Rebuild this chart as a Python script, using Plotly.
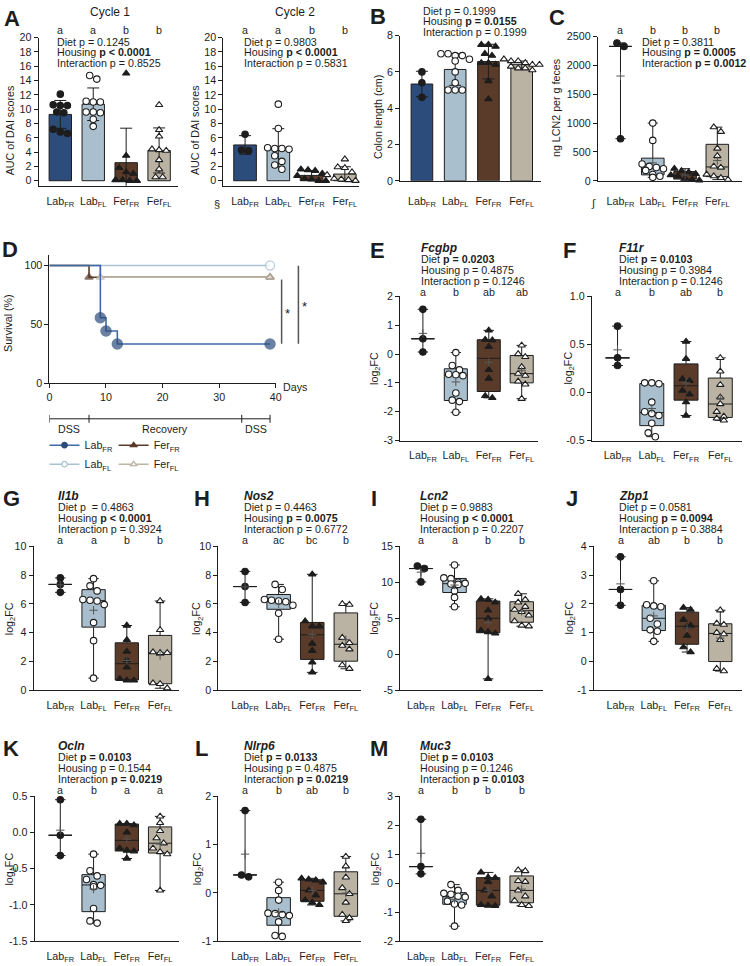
import numpy as np
import plotly.graph_objects as go

# ---------------- categories ----------------
group_names = ["LabFR", "LabFL", "FerFR", "FerFL"]
group_ticktext = ["Lab<sub>FR</sub>", "Lab<sub>FL</sub>", "Fer<sub>FR</sub>", "Fer<sub>FL</sub>"]

# ---------------- A: AUC of DAI scores ----------------
auc_c1_lab_fr = [12.1, 10.6, 10.5, 10.5, 9.6, 9.5, 7.2, 6.6, 6.8]
auc_c1_lab_fl = [14.7, 14.2, 11.1, 11.0, 11.0, 9.6, 9.6, 9.5, 8.6, 7.6]
auc_c1_fer_fr = [15.0, 3.5, 1.8, 1.2, 1.0, 0.1, 0.0, 0.0, 0.1]
auc_c1_fer_fl = [10.6, 7.1, 6.2, 4.4, 4.2, 4.3, 2.9, 1.6, 0.5, 0.5]

auc_c2_lab_fr = [6.5, 4.3, 4.2]
auc_c2_lab_fl = [10.7, 7.3, 4.6, 4.5, 4.5, 4.4, 3.5, 2.7, 2.2, 1.6]
auc_c2_fer_fr = [1.6, 1.5, 1.4, 1.0, 0.7, 0.3, 0.2, 0.0, 0.0]
auc_c2_fer_fl = [3.0, 1.9, 1.8, 1.2, 0.8, 0.3, 0.2, 0.1, 0.0, 0.0]

# ---------------- B: colon length ----------------
colon_lab_fr = [6.0, 5.4, 4.6]
colon_lab_fl = [7.0, 7.0, 6.9, 6.9, 6.7, 6.6, 6.0, 5.4, 5.0, 5.0, 5.0]
colon_fer_fr = [7.5, 7.5, 7.4, 7.0, 6.9, 6.5, 6.5, 6.4, 5.5, 4.5]
colon_fer_fl = [6.7, 6.6, 6.6, 6.5, 6.4, 6.4, 6.3, 6.2, 6.2, 6.1]

# ---------------- C: fecal LCN2 ----------------
lcn2f_lab_fr = [2390, 2330, 730]
lcn2f_lab_fl = [1000, 700, 290, 250, 230, 210, 180, 110, 80, 60]
lcn2f_fer_fr = [210, 170, 150, 120, 100, 80, 40, 20, 10]
lcn2f_fer_fl = [930, 850, 560, 430, 250, 230, 110, 80, 50, 20]

# ---------------- D: survival ----------------
surv_days_lab_fr = [0, 9, 10, 12, 39]
surv_pct_lab_fr = [100, 55.6, 44.4, 33.3, 33.3]
surv_days_lab_fl = [0, 39]
surv_pct_lab_fl = [100, 100]
surv_days_fer_fr = [0, 7, 39]
surv_pct_fer_fr = [100, 90, 90]
surv_days_fer_fl = [0, 9, 39]
surv_pct_fer_fl = [100, 90, 90]
phase_days = [0, 7, 34, 39]
phase_labels = ["DSS", "Recovery", "DSS"]

# ---------------- E-M: gene expression (log2FC) ----------------
fcgbp_lab_fr = [1.55, 0.53, 0.07]
fcgbp_lab_fl = [0.05, -0.4, -0.55, -0.72, -0.75, -0.7, -1.35, -1.65, -1.6, -2.02]
fcgbp_fer_fr = [0.82, 0.5, 0.48, 0.25, -0.55, -0.85, -1.45, -1.52]
fcgbp_fer_fl = [0.3, 0.0, -0.1, -0.45, -0.68, -0.75, -0.95, -1.05, -1.55]

f11r_lab_fr = [0.69, 0.36, 0.28]
f11r_lab_fl = [0.1, 0.09, 0.1, -0.1, -0.22, -0.2, -0.24, -0.32, -0.42, -0.46]
f11r_fer_fr = [0.53, 0.35, 0.14, 0.12, 0.02, -0.02, -0.1, -0.24]
f11r_fer_fl = [0.36, 0.22, 0.08, -0.05, -0.12, -0.2, -0.25, -0.27, -0.29]

il1b_lab_fr = [7.8, 7.35, 6.8]
il1b_lab_fl = [7.75, 7.25, 6.9, 6.3, 6.25, 6.2, 5.95, 4.7, 3.45, 0.85]
il1b_fer_fr = [4.5, 3.5, 2.7, 2.1, 1.6, 0.8, 0.7, 0.7]
il1b_fer_fl = [6.2, 4.2, 2.65, 2.6, 2.6, 0.5, 0.45, 0.15]

nos2_lab_fr = [8.25, 7.2, 6.1]
nos2_lab_fl = [7.35, 7.0, 6.3, 6.25, 6.2, 6.15, 5.9, 5.35, 3.55]
nos2_fer_fr = [8.05, 4.8, 4.45, 4.45, 3.25, 2.75, 1.95, 1.25]
nos2_fer_fl = [6.0, 5.95, 3.65, 3.3, 3.1, 2.85, 1.75, 1.5]

lcn2_lab_fr = [12.25, 11.9, 10.05]
lcn2_lab_fl = [12.4, 10.6, 10.5, 10.0, 9.85, 9.75, 9.7, 8.8, 7.9, 6.6]
lcn2_fer_fr = [7.7, 7.6, 7.2, 6.1, 5.0, 3.3, 3.1, 2.9, -3.4]
lcn2_fer_fl = [8.4, 7.6, 7.2, 6.6, 6.2, 5.9, 5.4, 4.6, 4.0, 3.9]

zbp1_lab_fr = [3.63, 2.5, 1.95]
zbp1_lab_fl = [2.8, 1.97, 1.93, 1.9, 1.5, 1.3, 1.1, 1.05, 0.7]
zbp1_fer_fr = [1.87, 1.8, 1.45, 1.25, 1.2, 0.9, 0.5, 0.33]
zbp1_fer_fl = [1.78, 1.32, 1.28, 1.0, 0.95, 0.75, -0.25, -0.33]

ocln_lab_fr = [0.45, -0.04, -0.32]
ocln_lab_fl = [-0.3, -0.53, -0.6, -0.65, -0.72, -0.73, -0.75, -1.05, -1.22, -1.25]
ocln_fer_fr = [0.12, 0.12, 0.1, 0.0, -0.22, -0.25, -0.26, -0.36]
ocln_fer_fl = [0.22, 0.13, 0.02, -0.08, -0.15, -0.22, -0.27, -0.3, -0.8]

nlrp6_lab_fr = [1.7, 0.37, 0.33]
nlrp6_lab_fl = [0.22, 0.05, -0.15, -0.42, -0.43, -0.45, -0.47, -0.6, -0.88, -0.9]
nlrp6_fer_fr = [0.3, 0.28, 0.26, 0.22, 0.05, -0.05, -0.15, -0.2, -0.25]
nlrp6_fer_fl = [0.75, 0.55, 0.32, 0.1, -0.02, -0.2, -0.45, -0.52, -0.58]

muc3_lab_fr = [2.2, 0.57, 0.32]
muc3_lab_fl = [-0.05, -0.25, -0.35, -0.38, -0.45, -0.48, -0.62, -0.72, -0.75, -1.48]
muc3_fer_fr = [0.37, 0.2, 0.18, 0.05, -0.25, -0.45, -0.75, -0.77, -0.78]
muc3_fer_fl = [0.45, 0.42, 0.08, 0.05, -0.25, -0.45, -0.6, -0.75, -0.78]

# ---------------- styles ----------------
W, H = 750, 966
FONT = "Liberation Sans, Arial, Helvetica, sans-serif"
INK = "#1d1d1d"
FS = 10.7
FILLS = ["#2c4c7c", "#a9bfcd", "#5a3a28", "#bab3a3"]
SYM = ["circle", "circle", "triangle-up", "triangle-up"]
PFILL = [INK, "white", INK, "white"]
PSIZE = [6.5, 6.5, 6.5, 6.5]

fig = go.Figure()
annotations = []
shapes = []
axis_count = [0]

AX = dict(showline=True, linecolor=INK, linewidth=1, showgrid=False, zeroline=False,
          tickfont=dict(family=FONT, size=FS, color=INK), fixedrange=True)


def add_text(px, py, s, size=FS, xanchor="left", yanchor="middle", angle=0):
    annotations.append(dict(x=px / W, y=1 - py / H, xref="paper", yref="paper", text=s,
                            showarrow=False, xanchor=xanchor, yanchor=yanchor, textangle=angle,
                            borderpad=0, font=dict(family=FONT, size=size, color=INK)))


def cat_axes(x_line, cat0, cat3, x_end, y_top, y_bot, yrange, yticks, fmt, standoff):
    axis_count[0] += 1
    n = axis_count[0]
    sfx = "" if n == 1 else str(n)
    sp = (cat3 - cat0) / 3.0
    xr = [-(cat0 - x_line) / sp, 3 + (x_end - cat3) / sp]
    fig.update_layout(**{
        "xaxis" + sfx: dict(domain=[x_line / W, x_end / W], range=xr, anchor="y" + sfx,
                            tickmode="array", tickvals=list(range(4)), ticktext=group_ticktext,
                            ticks="", ticklabelstandoff=standoff, **AX),
        "yaxis" + sfx: dict(domain=[1 - y_bot / H, 1 - y_top / H], range=yrange, anchor="x" + sfx,
                            tickmode="array", tickvals=yticks,
                            ticktext=[fmt.format(v) for v in yticks],
                            ticks="outside", ticklen=4, tickwidth=1, tickcolor=INK, **AX),
    })
    return dict(xa="x" + sfx, ya="y" + sfx, ypx=(y_bot - y_top) / (yrange[1] - yrange[0]), xpx=sp)


def swarm_offsets(vals, ypx, xpx, dot=7.2):
    v = np.asarray(vals, float)
    order = np.argsort(-v, kind="stable")
    rows = []
    for i in order:
        if rows and abs(v[rows[-1][0]] - v[i]) * ypx < dot * 0.85:
            rows[-1].append(i)
        else:
            rows.append([i])
    off = np.zeros(len(v))
    for r in rows:
        k = len(r)
        for j, i in enumerate(r):
            off[i] = (j - (k - 1) / 2.0) * dot / xpx
    return off


def add_points(ax, data):
    for i, vals in enumerate(data):
        off = swarm_offsets(vals, ax["ypx"], ax["xpx"])
        fig.add_trace(go.Scatter(
            x=i + off, y=vals, mode="markers",
            marker=dict(symbol=SYM[i], size=PSIZE[i], color=PFILL[i], line=dict(color=INK, width=1.1)),
            xaxis=ax["xa"], yaxis=ax["ya"], cliponaxis=False, showlegend=False, hoverinfo="skip"))


def bar_panel(ax, data, width=0.68):
    means = [float(np.mean(d)) for d in data]
    sds = [float(np.std(d, ddof=1)) for d in data]
    fig.add_trace(go.Bar(
        x=list(range(4)), y=means, width=width,
        marker=dict(color=FILLS, line=dict(color=INK, width=1)),
        error_y=dict(type="data", array=sds, visible=True, color=INK, thickness=1, width=6),
        xaxis=ax["xa"], yaxis=ax["ya"], showlegend=False, hoverinfo="skip"))
    add_points(ax, data)


def box_panel(ax, data):
    for i, d in enumerate(data):
        d = np.asarray(d, float)
        med = float(np.median(d))
        if len(d) > 3:
            q1, q3 = [float(q) for q in np.percentile(d, [25, 75], method="weibull")]
        else:
            q1 = q3 = med
        fig.add_trace(go.Box(
            x=[i], q1=[q1], median=[med], q3=[q3], lowerfence=[float(d.min())],
            upperfence=[float(d.max())], width=0.7, whiskerwidth=0.45,
            fillcolor=FILLS[i], line=dict(color=INK, width=1), boxpoints=False,
            xaxis=ax["xa"], yaxis=ax["ya"], showlegend=False, hoverinfo="skip"))
    add_points(ax, data)
    for i, d in enumerate(data):
        fig.add_trace(go.Scatter(
            x=[i], y=[float(np.mean(d))], mode="markers",
            marker=dict(symbol="cross-thin", size=6, line=dict(color="#555555", width=1)),
            xaxis=ax["xa"], yaxis=ax["ya"], cliponaxis=False, showlegend=False, hoverinfo="skip"))


def add_letters(ax, letters, py):
    for i, s in enumerate(letters):
        annotations.append(dict(x=i, xref=ax["xa"], y=1 - py / H, yref="paper", text=s,
                                showarrow=False, xanchor="center", yanchor="middle", borderpad=0,
                                font=dict(family=FONT, size=FS, color=INK)))


def add_stats(px, ys, lines):
    for y, s in zip(ys, lines):
        add_text(px, y, s)


# ================= Row 1 =================
# A - cycle 1
axA1 = cat_axes(36, 58, 158, 177, 32, 182, [-0.7, 20], list(range(0, 21, 2)), "{:g}", 5)
bar_panel(axA1, [auc_c1_lab_fr, auc_c1_lab_fl, auc_c1_fer_fr, auc_c1_fer_fl])
add_text(108, 6, "Cycle 1", size=12, xanchor="center")
add_letters(axA1, ["a", "a", "b", "b"], 24)
add_stats(54, [36, 47, 58], ["Diet p = 0.1245", "Housing <b>p &lt; 0.0001</b>", "Interaction p = 0.8525"])
add_text(8, 126, "AUC of DAI scores", xanchor="center", angle=-90)
add_text(9, 13, "<b>A</b>", size=22, xanchor="center")

# A - cycle 2
axA2 = cat_axes(223, 245, 346, 360, 32, 182, [-0.7, 20], list(range(0, 21, 2)), "{:g}", 5)
bar_panel(axA2, [auc_c2_lab_fr, auc_c2_lab_fl, auc_c2_fer_fr, auc_c2_fer_fl])
add_text(296, 6, "Cycle 2", size=12, xanchor="center")
add_letters(axA2, ["a", "a", "b", "b"], 24)
add_stats(243, [36, 47, 58], ["Diet p = 0.9803", "Housing <b>p &lt; 0.0001</b>", "Interaction p = 0.5831"])
add_text(195, 126, "AUC of DAI scores", xanchor="center", angle=-90)
add_text(217, 200, "§", size=11, xanchor="center")

# B
axB = cat_axes(402, 424, 525, 545, 30, 177, [0, 8], [0, 2, 4, 6, 8], "{:g}", 10)
bar_panel(axB, [colon_lab_fr, colon_lab_fl, colon_fer_fr, colon_fer_fl], width=0.65)
add_stats(424, [5, 15.5, 26], ["Diet p = 0.1999", "Housing <b>p = 0.0155</b>", "Interaction p = 0.1999"])
add_text(379, 112, "Colon length (cm)", xanchor="center", angle=-90)
add_text(380, 11, "<b>B</b>", size=22, xanchor="center")

# C
axC = cat_axes(602, 625, 723, 748, 31, 177, [0, 2500], [0, 500, 1000, 1500, 2000, 2500], "{:g}", 10)
box_panel(axC, [lcn2f_lab_fr, lcn2f_lab_fl, lcn2f_fer_fr, lcn2f_fer_fl])
add_letters(axC, ["a", "b", "b", "b"], 24)
add_stats(646, [36, 47, 58], ["Diet p = 0.3811", "Housing <b>p = 0.0005</b>", "Interaction <b>p = 0.0012</b>"])
add_text(559, 103, "ng LCN2 per g feces", xanchor="center", angle=-90)
add_text(598, 200, "∫", size=11, xanchor="center")
add_text(561, 12, "<b>C</b>", size=22, xanchor="center")

# ================= D: survival =================
axis_count[0] += 1
nD = axis_count[0]
xD, yD = "x%d" % nD, "y%d" % nD
fig.update_layout(**{
    "xaxis%d" % nD: dict(domain=[47 / W, 276 / W], range=[0, 40], anchor=yD, tickmode="array",
                         tickvals=[0, 10, 20, 30, 40], ticks="outside", ticklen=4, tickwidth=1,
                         tickcolor=INK, **AX),
    "yaxis%d" % nD: dict(domain=[1 - 382 / H, 1 - 252 / H], range=[0, 109], anchor=xD, tickmode="array",
                         tickvals=[0, 50, 100], ticks="outside", ticklen=4, tickwidth=1,
                         tickcolor=INK, **AX),
})
SURV = [
    ("Lab<sub>FL</sub>", surv_days_lab_fl, surv_pct_lab_fl, "#a9c3d3", "circle", "white", "#a9c3d3", 9, "legend"),
    ("Fer<sub>FR</sub>", surv_days_fer_fr, surv_pct_fer_fr, "#5a3a28", "triangle-up", "#5a3a28", "#5a3a28", 7, "legend2"),
    ("Fer<sub>FL</sub>", surv_days_fer_fl, surv_pct_fer_fl, "#bdb5a5", "triangle-up", "white", "#bdb5a5", 7, "legend2"),
    ("Lab<sub>FR</sub>", surv_days_lab_fr, surv_pct_lab_fr, "#3f69a6", "circle", "#2c4c7c", "#2c4c7c", 10, "legend"),
]
for name, dx, dy, lc, sym, mf, ml, ms, lg in SURV:
    fig.add_trace(go.Scatter(
        x=dx, y=dy, mode="lines+markers", line=dict(shape="hv", color=lc, width=1.6),
        marker=dict(symbol=sym, size=[0] + [ms] * (len(dx) - 1), color=mf, line=dict(color=ml, width=1.5)),
        xaxis=xD, yaxis=yD, cliponaxis=False, showlegend=False, hoverinfo="skip"))
legend_order = [SURV[3], SURV[0], SURV[1], SURV[2]]
for name, dx, dy, lc, sym, mf, ml, ms, lg in legend_order:
    fig.add_trace(go.Scatter(
        x=[None], y=[None], mode="lines+markers", name=name, legend=lg,
        line=dict(color=lc, width=1.5),
        marker=dict(symbol=sym, size=5.5, color=mf, line=dict(color=ml, width=1.3)),
        xaxis=xD, yaxis=yD, showlegend=True))
add_text(5, 321, "Survival (%)", xanchor="center", angle=-90)
add_text(282, 386, "Days")
add_text(7, 247, "<b>D</b>", size=22, xanchor="center")
# phase bracket
shapes.append(dict(type="line", xref=xD, yref="paper", x0=phase_days[0], x1=phase_days[-1],
                   y0=1 - 418 / H, y1=1 - 418 / H, line=dict(color=INK, width=1)))
for d in phase_days:
    shapes.append(dict(type="line", xref=xD, yref="paper", x0=d, x1=d,
                       y0=1 - 414 / H, y1=1 - 422 / H, line=dict(color=INK, width=1)))
for k, lab in enumerate(phase_labels):
    annotations.append(dict(x=(phase_days[k] + phase_days[k + 1]) / 2, xref=xD, y=1 - 428 / H, yref="paper",
                            text=lab, showarrow=False, xanchor="center", yanchor="middle", borderpad=0,
                            font=dict(family=FONT, size=FS, color=INK)))
# significance bars
for xp, y0, y1, sx, sy in [(282, 277, 342, 288, 311), (299, 263, 342, 305, 304)]:
    shapes.append(dict(type="line", xref="paper", yref="paper", x0=xp / W, x1=xp / W,
                       y0=1 - y0 / H, y1=1 - y1 / H, line=dict(color="#555555", width=1.5)))
    add_text(sx, sy, "*", size=13, xanchor="center")

# ================= gene panels =================
GENES = [
    ("E", "Fcgbp", [fcgbp_lab_fr, fcgbp_lab_fl, fcgbp_fer_fr, fcgbp_fer_fl],
     (402, 425, 525, 542, 294, 440, [-3, 2], [-3, -2, -1, 0, 1, 2], "{:g}"),
     ["a", "b", "ab", "ab"], ["Diet <b>p = 0.0203</b>", "Housing p = 0.4875", "Interaction p = 0.1246"],
     422, 379, 377, 245),
    ("F", "F11r", [f11r_lab_fr, f11r_lab_fl, f11r_fer_fr, f11r_fer_fl],
     (596, 622, 726, 748, 294, 440, [-0.5, 1.0], [-0.5, 0.0, 0.5, 1.0], "{:.1f}"),
     ["a", "b", "ab", "b"], ["Diet <b>p = 0.0103</b>", "Housing p = 0.3984", "Interaction p = 0.1246"],
     622, 573, 573, 245),
    ("G", "Il1b", [il1b_lab_fr, il1b_lab_fl, il1b_fer_fr, il1b_fer_fl],
     (31, 58, 159, 178, 547, 693, [0, 10], [0, 2, 4, 6, 8, 10], "{:g}"),
     ["a", "a", "b", "b"], ["Diet p  = 0.4863", "Housing <b>p &lt; 0.0001</b>", "Interaction p = 0.3924"],
     55, 9, 7, 496),
    ("H", "Nos2", [nos2_lab_fr, nos2_lab_fl, nos2_fer_fr, nos2_fer_fl],
     (218, 245, 347, 362, 547, 693, [0, 10], [0, 2, 4, 6, 8, 10], "{:g}"),
     ["a", "ac", "bc", "b"], ["Diet p = 0.4463", "Housing <b>p = 0.0075</b>", "Interaction p = 0.6772"],
     243, 201, 197, 496),
    ("I", "Lcn2", [lcn2_lab_fr, lcn2_lab_fl, lcn2_fer_fr, lcn2_fer_fl],
     (402, 423, 525, 547, 547, 693, [-5, 15], [-5, 0, 5, 10, 15], "{:g}"),
     ["a", "a", "b", "b"], ["Diet p = 0.9883", "Housing <b>p &lt; 0.0001</b>", "Interaction p = 0.2207"],
     421, 376, 377, 496),
    ("J", "Zbp1", [zbp1_lab_fr, zbp1_lab_fl, zbp1_fer_fr, zbp1_fer_fl],
     (598, 625, 726, 748, 547, 693, [-1, 4], [-1, 0, 1, 2, 3, 4], "{:g}"),
     ["a", "ab", "b", "b"], ["Diet p = 0.0581", "Housing <b>p = 0.0094</b>", "Interaction p = 0.3884"],
     622, 576, 574, 496),
    ("K", "Ocln", [ocln_lab_fr, ocln_lab_fl, ocln_fer_fr, ocln_fer_fl],
     (32, 58, 159, 178, 800, 947, [-1.5, 0.5], [-1.5, -1.0, -0.5, 0.0, 0.5], "{:.1f}"),
     ["a", "b", "a", "a"], ["Diet <b>p = 0.0103</b>", "Housing p = 0.1544", "Interaction <b>p = 0.0219</b>"],
     55, 8, 7, 749),
    ("L", "Nlrp6", [nlrp6_lab_fr, nlrp6_lab_fl, nlrp6_fer_fr, nlrp6_fer_fl],
     (218, 245, 347, 362, 800, 947, [-1, 2], [-1, 0, 1, 2], "{:g}"),
     ["a", "b", "ab", "b"], ["Diet <b>p = 0.0133</b>", "Housing p = 0.4875", "Interaction <b>p = 0.0219</b>"],
     243, 201, 197, 749),
    ("M", "Muc3", [muc3_lab_fr, muc3_lab_fl, muc3_fer_fr, muc3_fer_fl],
     (402, 423, 525, 547, 800, 947, [-2, 3], [-2, -1, 0, 1, 2, 3], "{:g}"),
     ["a", "b", "b", "b"], ["Diet <b>p = 0.0103</b>", "Housing p = 0.1246", "Interaction <b>p = 0.0103</b>"],
     421, 381, 377, 749),
]
for letter, title, data, geo, lets, stats, tx, lx, yx, ty in GENES:
    ax = cat_axes(*geo, 5)
    box_panel(ax, data)
    add_text(lx, ty + 3, "<b>%s</b>" % letter, size=22, xanchor="center")
    add_text(tx, ty, "<b><i>%s</i></b>" % title, size=12)
    add_stats(tx, [ty + 11.5, ty + 22.5, ty + 33.5], stats)
    add_letters(ax, lets, ty + 44.5)
    yc = (geo[4] + geo[5]) / 2
    add_text(yx, yc, "log<sub>2</sub>FC", xanchor="center", angle=-90)

leg_common = dict(yanchor="top", xanchor="left", orientation="v", bgcolor="rgba(0,0,0,0)",
                  font=dict(family=FONT, size=FS, color=INK), itemwidth=30, tracegroupgap=0,
                  itemclick=False, itemdoubleclick=False)
fig.update_layout(
    width=W, height=H, margin=dict(l=0, r=0, t=0, b=0),
    paper_bgcolor="white", plot_bgcolor="rgba(0,0,0,0)",
    font=dict(family=FONT, size=FS, color=INK),
    showlegend=True,
    legend=dict(x=42 / W, y=1 - 430 / H, **leg_common),
    legend2=dict(x=112 / W, y=1 - 430 / H, **leg_common),
    annotations=annotations, shapes=shapes, boxmode="overlay",
)
fig.write_html("out.html")
